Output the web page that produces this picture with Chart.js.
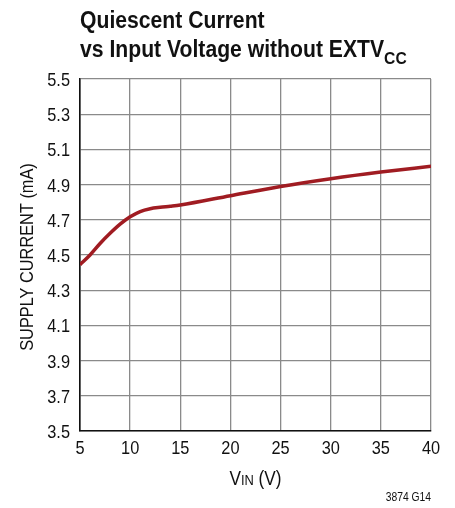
<!DOCTYPE html>
<html>
<head>
<meta charset="utf-8">
<script src="https://cdn.jsdelivr.net/npm/chart.js@4.4.1/dist/chart.umd.min.js"></script>
<style>
    html, body { margin: 0; padding: 0; background: #fff; }
    #wrap { width: 455px; height: 508px; position: relative; }
</style>
</head>
<body>
<div id="wrap"><canvas id="currentChart"></canvas></div>
<script>
// данные кривой
const vinValues = [5, 6, 7, 8, 9, 10, 11, 12, 13, 14, 15, 20, 25, 30, 35, 40];
const supplyCurrent = [4.445, 4.50, 4.565, 4.623, 4.675, 4.717, 4.747, 4.763, 4.771, 4.777, 4.784, 4.837, 4.889, 4.933, 4.971, 5.004];
const xTicks = [5, 10, 15, 20, 25, 30, 35, 40];
const yTicks = [3.5, 3.7, 3.9, 4.1, 4.3, 4.5, 4.7, 4.9, 5.1, 5.3, 5.5];

const FONT = '"Liberation Sans", Arial, sans-serif';
const NARROW = 0.86; // узкого шрифта нет, поэтому сжимаем по горизонтали

function narrowText(ctx, text, x, y, font, align, sx) {
    ctx.save();
    ctx.font = font;
    ctx.translate(x, y);
    ctx.scale(sx, 1);
    ctx.textAlign = align;
    ctx.textBaseline = 'alphabetic';
    ctx.fillText(text, 0, 0);
    ctx.restore();
}

function textWidth(ctx, text, font, sx) {
    ctx.save();
    ctx.font = font;
    const w = ctx.measureText(text).width * sx;
    ctx.restore();
    return w;
}

// все подписи рисуем сами: заголовок, значения осей, названия осей
const textPlugin = {
    id: 'textPlugin',
    afterDraw(chart) {
        const ctx = chart.ctx;
        const area = chart.chartArea;
        const xs = chart.scales.x;
        const ys = chart.scales.y;
        ctx.save();
        ctx.fillStyle = '#111';

        // заголовок
        const titleFont = 'bold 23px ' + FONT;
        narrowText(ctx, 'Quiescent Current', 80, 28, titleFont, 'left', 0.92);
        const line2 = 'vs Input Voltage without EXTV';
        narrowText(ctx, line2, 80, 57, titleFont, 'left', 0.92);
        const w2 = textWidth(ctx, line2, titleFont, 0.92);
        narrowText(ctx, 'CC', 80 + w2, 64, 'bold 17px ' + FONT, 'left', 0.92);

        // значения по осям
        const tickFont = '19px ' + FONT;
        yTicks.forEach(v => {
            narrowText(ctx, v.toFixed(1), area.left - 10, ys.getPixelForValue(v) + 7, tickFont, 'right', NARROW);
        });
        xTicks.forEach(v => {
            narrowText(ctx, String(v), xs.getPixelForValue(v), area.bottom + 23, tickFont, 'center', NARROW);
        });

        // подпись оси Y
        ctx.save();
        ctx.translate(33, (area.top + area.bottom) / 2 + 2);
        ctx.rotate(-Math.PI / 2);
        narrowText(ctx, 'SUPPLY CURRENT (mA)', 0, 0, '19px ' + FONT, 'center', NARROW);
        ctx.restore();

        // подпись оси X: V крупно, IN помельче
        const cx = (area.left + area.right) / 2;
        const bigFont = '20px ' + FONT;
        const smallFont = '15px ' + FONT;
        const vW = textWidth(ctx, 'V', bigFont, NARROW);
        const inW = textWidth(ctx, 'IN', smallFont, NARROW);
        const restW = textWidth(ctx, ' (V)', bigFont, NARROW);
        const x0 = cx - (vW + inW + restW) / 2;
        narrowText(ctx, 'V', x0, 485, bigFont, 'left', NARROW);
        narrowText(ctx, 'IN', x0 + vW, 485, smallFont, 'left', NARROW);
        narrowText(ctx, ' (V)', x0 + vW + inW, 485, bigFont, 'left', NARROW);

        narrowText(ctx, '3874 G14', area.right, 501, '12px ' + FONT, 'right', NARROW);
        ctx.restore();
    }
};

const config = {
    type: 'line',
    data: {
        datasets: [{
            data: vinValues.map((v, i) => ({x: v, y: supplyCurrent[i]})),
            borderColor: '#a01c22',
            borderWidth: 3.5,
            pointRadius: 0,
            cubicInterpolationMode: 'monotone',
            fill: false
        }]
    },
    options: {
        responsive: true,
        maintainAspectRatio: false,
        animation: false,
        layout: {padding: {left: 0, right: 24, top: 79, bottom: 0}},
        plugins: {legend: {display: false}, tooltip: {enabled: false}},
        scales: {
            x: {
                type: 'linear',
                min: 5,
                max: 40,
                afterBuildTicks(scale) {
                    scale.ticks = xTicks.map(v => ({value: v}));
                },
                afterFit(scale) { scale.height = 77; },
                grid: {color: '#8a8a8a', lineWidth: 1.3, drawTicks: false},
                border: {color: '#111', width: 1.6},
                ticks: {color: 'rgba(0,0,0,0)', maxRotation: 0}
            },
            y: {
                min: 3.5,
                max: 5.5,
                afterBuildTicks(scale) {
                    scale.ticks = yTicks.map(v => ({value: v}));
                },
                afterFit(scale) { scale.width = 80; },
                grid: {color: '#8a8a8a', lineWidth: 1.3, drawTicks: false},
                border: {color: '#111', width: 1.6},
                ticks: {color: 'rgba(0,0,0,0)', callback: v => v.toFixed(1)}
            }
        }
    },
    plugins: [textPlugin]
};

new Chart(document.getElementById('currentChart'), config);
</script>
</body>
</html>
